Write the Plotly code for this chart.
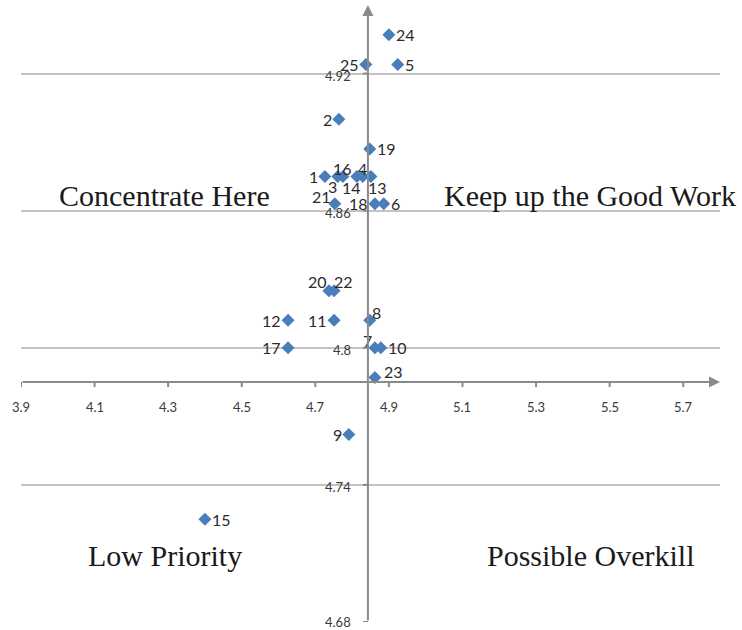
import plotly.graph_objects as go

# ---------------- data ----------------
point_ids = ["24", "25", "5", "2", "19", "1", "16", "3", "14", "4", "13",
             "21", "18", "6", "20", "22", "12", "11", "8", "17", "7", "10",
             "23", "9", "15"]
importance = [4.900, 4.8375, 4.924, 4.764, 4.848, 4.726, 4.775, 4.761, 4.813,
              4.829, 4.851, 4.753, 4.862, 4.886, 4.737, 4.751, 4.626, 4.751,
              4.848, 4.626, 4.862, 4.878, 4.862, 4.791, 4.400]
performance = [4.937, 4.924, 4.924, 4.900, 4.887, 4.875, 4.875, 4.875, 4.875,
               4.875, 4.875, 4.863, 4.863, 4.863, 4.825, 4.825, 4.812, 4.812,
               4.812, 4.800, 4.800, 4.800, 4.787, 4.762, 4.725]

x_tick_vals = [3.9, 4.1, 4.3, 4.5, 4.7, 4.9, 5.1, 5.3, 5.5, 5.7]
x_tick_text = ["3.9", "4.1", "4.3", "4.5", "4.7", "4.9", "5.1", "5.3", "5.5", "5.7"]
y_tick_vals = [4.68, 4.74, 4.80, 4.86, 4.92]
y_tick_text = ["4.68", "4.74", "4.8", "4.86", "4.92"]

x_range = [3.9, 5.8]
y_range = [4.68, 4.95]
x_cross = 4.843   # where the vertical axis crosses
y_cross = 4.785   # where the horizontal axis crosses

quadrant_names = ["Concentrate Here", "Keep up the Good Work",
                  "Low Priority", "Possible Overkill"]

# ---------------- styles ----------------
# label placement: (xanchor, xshift px, yshift px)
R = ("left", 5, 0)
L = ("right", -5, 0)
label_offset = {
    "24": R, "25": L, "5": R, "2": L, "19": R, "1": L,
    "16": ("center", 0, 8), "3": ("center", -5, -10),
    "14": ("center", -5, -11), "4": ("center", 0, 8),
    "13": ("center", 7, -11), "21": ("center", -13, 7),
    "18": L, "6": R,
    "20": ("center", -11, 9), "22": ("center", 9, 9),
    "12": L, "11": L, "8": ("center", 7, 8), "17": L,
    "7": ("center", -7, 7), "10": R, "23": ("left", 7, 6),
    "9": L, "15": R,
}
quadrant_xy = [(0.205, 0.692), (0.814, 0.692), (0.206, 0.107), (0.815, 0.107)]

AXIS_COLOR = "#8a8a8a"
GRID_COLOR = "#c3c3c3"
MARKER_COLOR = "#4a7ebb"
LABEL_FONT = "Lato"

fig = go.Figure()

fig.add_trace(go.Scatter(
    x=importance, y=performance, mode="markers",
    text=point_ids,
    marker=dict(symbol="diamond", size=10, color=MARKER_COLOR),
    cliponaxis=False, hoverinfo="x+y+text", showlegend=False,
))

annotations = []
shapes = []

# point labels
for pid, xv, yv in zip(point_ids, importance, performance):
    xa, dx, dy = label_offset[pid]
    annotations.append(dict(x=xv, y=yv, xref="x", yref="y", text=pid,
                            showarrow=False, xanchor=xa, yanchor="middle",
                            xshift=dx, yshift=dy,
                            font=dict(family=LABEL_FONT, size=16, color="#2b2b2b")))

# horizontal axis with arrow
annotations.append(dict(
    x=x_range[1], y=y_cross, ax=x_range[0], ay=y_cross,
    xref="x", yref="y", axref="x", ayref="y", text="",
    showarrow=True, arrowhead=2, arrowsize=1.1, arrowwidth=2,
    arrowcolor=AXIS_COLOR, standoff=0,
))
# vertical axis with arrow
annotations.append(dict(
    x=x_cross, y=y_range[1], ax=x_cross, ay=y_range[0],
    xref="x", yref="y", axref="x", ayref="y", text="",
    showarrow=True, arrowhead=2, arrowsize=1.1, arrowwidth=2,
    arrowcolor=AXIS_COLOR, standoff=0,
))

# x tick marks and labels
for v, t in zip(x_tick_vals, x_tick_text):
    shapes.append(dict(type="line", xref="x", yref="y", ysizemode="pixel",
                       yanchor=y_cross, x0=v, x1=v, y0=0, y1=-5,
                       line=dict(color=AXIS_COLOR, width=2)))
    annotations.append(dict(x=v, y=y_cross, xref="x", yref="y", text=t,
                            showarrow=False, yanchor="middle", yshift=-25,
                            font=dict(family=LABEL_FONT, size=13, color="#3a3a3a")))

# y tick marks and labels
for v, t in zip(y_tick_vals, y_tick_text):
    shapes.append(dict(type="line", xref="x", yref="y", xsizemode="pixel",
                       xanchor=x_cross, x0=-5, x1=0, y0=v, y1=v,
                       line=dict(color=AXIS_COLOR, width=2)))
    annotations.append(dict(x=x_cross, y=v, xref="x", yref="y", text=t,
                            showarrow=False, xanchor="right", xshift=-15,
                            yanchor="middle", yshift=-2 if v > y_range[0] else 0,
                            font=dict(family=LABEL_FONT, size=13, color="#3a3a3a")))

# quadrant captions
for name, (px, py) in zip(quadrant_names, quadrant_xy):
    annotations.append(dict(x=px, y=py, xref="paper", yref="paper", text=name,
                            showarrow=False, xanchor="center", yanchor="middle",
                            font=dict(family="Liberation Serif", size=30,
                                      color="#1a1a1a")))

fig.update_layout(
    width=742, height=630,
    margin=dict(l=21, r=22, t=5, b=8),
    paper_bgcolor="white", plot_bgcolor="white",
    xaxis=dict(range=x_range, showgrid=False, zeroline=False,
               showticklabels=False, ticks="", showline=False, fixedrange=True),
    yaxis=dict(range=y_range, tickvals=y_tick_vals, showgrid=True,
               gridcolor=GRID_COLOR, gridwidth=1.5, zeroline=False,
               showticklabels=False, ticks="", showline=False, fixedrange=True),
    annotations=annotations, shapes=shapes,
)

fig.write_html("out.html", config={"displayModeBar": False},
               post_script="document.body.style.margin='0';document.body.style.overflow='hidden';")
